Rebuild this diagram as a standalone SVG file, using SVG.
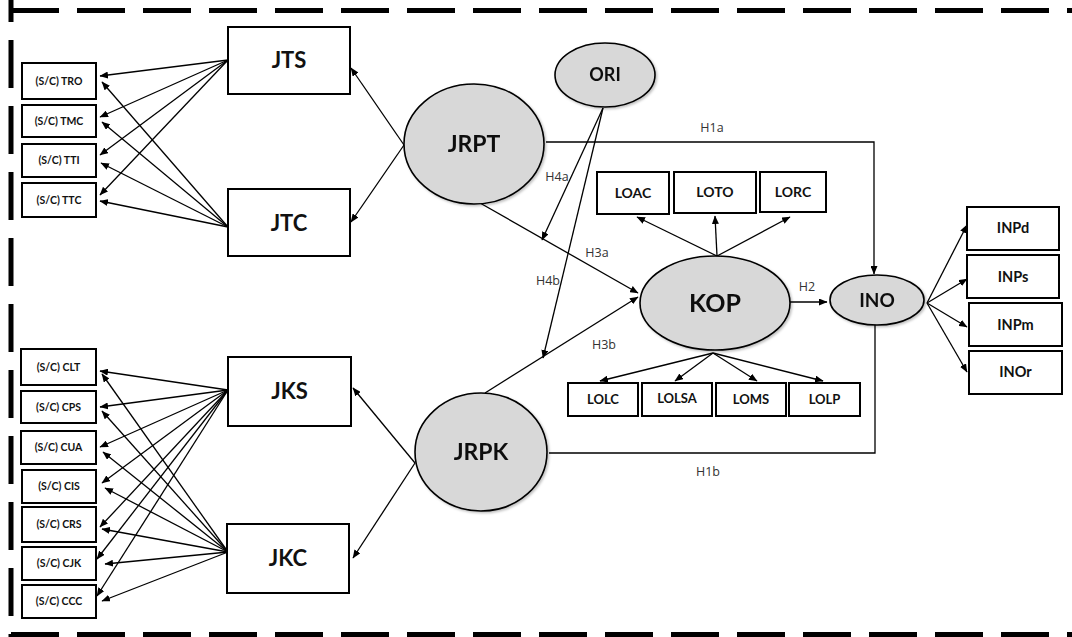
<svg xmlns="http://www.w3.org/2000/svg" width="1072" height="637" viewBox="0 0 1072 637">
  <style>
    .box { fill: #ffffff; stroke: #000; stroke-width: 2; }
    .oval { fill: #d8d8d8; stroke: #000; stroke-width: 1.6; }
    .lbl { font-family: Lato, "Open Sans", "Liberation Sans", sans-serif; font-weight: bold; fill: #111; text-anchor: middle; }
    .sm { font-size: 10.5px; }
    .hyp { font-family: "Open Sans", "Liberation Sans", sans-serif; font-size: 12.5px; fill: #333; text-anchor: middle; }
    .edge { stroke: #000; stroke-width: 1.3; fill: none; }
    .arr { marker-end: url(#tip); }
    .frame { stroke: #000; stroke-width: 5; stroke-dasharray: 48 18; fill: none; }
  </style>
  <defs>
    <marker id="tip" markerUnits="userSpaceOnUse" markerWidth="9" markerHeight="7" refX="8" refY="3.5" orient="auto">
      <path d="M0,0 L8.5,3.5 L0,7 z" fill="#000"/>
    </marker>
    <filter id="shade" x="-10%" y="-10%" width="125%" height="130%">
      <feDropShadow dx="1.5" dy="1.5" stdDeviation="1.2" flood-color="#000" flood-opacity="0.25"/>
    </filter>
  </defs>

  <rect width="1072" height="637" fill="#fff"/>

  <!-- dashed frame -->
  <g id="frame">
    <line class="frame" x1="11" y1="10.5" x2="1080" y2="10.5"/>
    <line class="frame" x1="11" y1="-26" x2="11" y2="640"/>
    <line class="frame" x1="11" y1="634.5" x2="1080" y2="634.5"/>
  </g>

  <!-- connectors -->
  <g id="connectors">
    <!-- JTS / JTC to task items -->
    <line class="edge arr" x1="228" y1="60" x2="100" y2="76"/>
    <line class="edge arr" x1="228" y1="60" x2="100" y2="117"/>
    <line class="edge arr" x1="228" y1="60" x2="100" y2="155"/>
    <line class="edge arr" x1="228" y1="60" x2="100" y2="195"/>
    <line class="edge arr" x1="228" y1="227" x2="102" y2="82"/>
    <line class="edge arr" x1="228" y1="227" x2="102" y2="122"/>
    <line class="edge arr" x1="228" y1="227" x2="101" y2="163"/>
    <line class="edge arr" x1="228" y1="227" x2="100" y2="201"/>

    <!-- JKS / JKC to context items -->
    <line class="edge arr" x1="228" y1="390" x2="100" y2="371"/>
    <line class="edge arr" x1="228" y1="390" x2="100" y2="407"/>
    <line class="edge arr" x1="228" y1="390" x2="100" y2="447"/>
    <line class="edge arr" x1="228" y1="390" x2="102" y2="483"/>
    <line class="edge arr" x1="228" y1="390" x2="100" y2="527"/>
    <line class="edge arr" x1="228" y1="390" x2="97" y2="559"/>
    <line class="edge arr" x1="228" y1="390" x2="97" y2="596"/>
    <line class="edge arr" x1="228" y1="552" x2="102" y2="374"/>
    <line class="edge arr" x1="228" y1="552" x2="102" y2="411"/>
    <line class="edge arr" x1="228" y1="552" x2="103" y2="452"/>
    <line class="edge arr" x1="228" y1="552" x2="105" y2="488"/>
    <line class="edge arr" x1="228" y1="552" x2="102" y2="529"/>
    <line class="edge arr" x1="228" y1="552" x2="105" y2="564"/>
    <line class="edge arr" x1="228" y1="552" x2="102" y2="601"/>

    <!-- JRPT / JRPK to their indicators -->
    <line class="edge arr" x1="404" y1="145" x2="351" y2="68"/>
    <line class="edge arr" x1="404" y1="145" x2="351" y2="222"/>
    <line class="edge arr" x1="415" y1="463" x2="353" y2="388"/>
    <line class="edge arr" x1="415" y1="463" x2="353" y2="558"/>

    <!-- structural paths -->
    <line class="edge arr" x1="480" y1="203" x2="638" y2="293"/>
    <line class="edge arr" x1="485" y1="393" x2="638" y2="297"/>
    <line class="edge arr" x1="603" y1="108" x2="542" y2="240"/>
    <line class="edge arr" x1="603" y1="108" x2="543" y2="358"/>
    <polyline class="edge arr" points="546,142 874,142 874,274"/>
    <polyline class="edge" points="549,453 875,453 875,325"/>
    <line class="edge arr" x1="790" y1="302" x2="827" y2="302"/>

    <!-- KOP to its indicators -->
    <line class="edge arr" x1="717" y1="256" x2="637" y2="217"/>
    <line class="edge arr" x1="717" y1="256" x2="715" y2="216"/>
    <line class="edge arr" x1="717" y1="256" x2="790" y2="217"/>
    <line class="edge arr" x1="713" y1="353" x2="600" y2="381"/>
    <line class="edge arr" x1="713" y1="353" x2="675" y2="381"/>
    <line class="edge arr" x1="713" y1="353" x2="757" y2="381"/>
    <line class="edge arr" x1="713" y1="353" x2="823" y2="381"/>

    <!-- INO to its indicators -->
    <line class="edge arr" x1="927" y1="303" x2="967" y2="225"/>
    <line class="edge arr" x1="927" y1="303" x2="967" y2="279"/>
    <line class="edge arr" x1="927" y1="303" x2="967" y2="327"/>
    <line class="edge arr" x1="927" y1="303" x2="967" y2="372"/>

    <!-- path labels -->
    <text class="hyp" x="712" y="132">H1a</text>
    <text class="hyp" x="708" y="476">H1b</text>
    <text class="hyp" x="807" y="291">H2</text>
    <text class="hyp" x="597" y="257">H3a</text>
    <text class="hyp" x="604" y="349">H3b</text>
    <text class="hyp" x="557" y="181">H4a</text>
    <text class="hyp" x="548" y="285">H4b</text>
  </g>

  <!-- task items -->
  <g id="n-tro"><rect class="box" x="22" y="63" width="74" height="36"/><text class="lbl sm" x="59" y="84.5">(S/C) TRO</text></g>
  <g id="n-tmc"><rect class="box" x="22" y="105" width="74" height="32"/><text class="lbl sm" x="59" y="124.5">(S/C) TMC</text></g>
  <g id="n-tti"><rect class="box" x="22" y="144" width="74" height="33"/><text class="lbl sm" x="59" y="164">(S/C) TTI</text></g>
  <g id="n-ttc"><rect class="box" x="22" y="183" width="74" height="34"/><text class="lbl sm" x="59" y="203.5">(S/C) TTC</text></g>

  <!-- context items -->
  <g id="n-clt"><rect class="box" x="21" y="349" width="75" height="36"/><text class="lbl sm" x="58.5" y="370.5">(S/C) CLT</text></g>
  <g id="n-cps"><rect class="box" x="21" y="391" width="75" height="32"/><text class="lbl sm" x="58.5" y="410.5">(S/C) CPS</text></g>
  <g id="n-cua"><rect class="box" x="21" y="431" width="75" height="33"/><text class="lbl sm" x="58.5" y="451">(S/C) CUA</text></g>
  <g id="n-cis"><rect class="box" x="22" y="470" width="74" height="33"/><text class="lbl sm" x="59" y="490">(S/C) CIS</text></g>
  <g id="n-crs"><rect class="box" x="22" y="507" width="74" height="35"/><text class="lbl sm" x="59" y="528">(S/C) CRS</text></g>
  <g id="n-cjk"><rect class="box" x="22" y="547" width="74" height="33"/><text class="lbl sm" x="59" y="567">(S/C) CJK</text></g>
  <g id="n-ccc"><rect class="box" x="22" y="585" width="74" height="33"/><text class="lbl sm" x="59" y="605">(S/C) CCC</text></g>

  <!-- first-order indicators -->
  <g id="n-jts"><rect class="box" x="228" y="27" width="122" height="67"/><text class="lbl" x="289" y="68" font-size="22">JTS</text></g>
  <g id="n-jtc"><rect class="box" x="228" y="189" width="122" height="67"/><text class="lbl" x="289" y="231" font-size="22">JTC</text></g>
  <g id="n-jks"><rect class="box" x="228" y="357" width="123" height="69"/><text class="lbl" x="289.5" y="399" font-size="22">JKS</text></g>
  <g id="n-jkc"><rect class="box" x="227" y="524" width="122" height="69"/><text class="lbl" x="288" y="566" font-size="22">JKC</text></g>

  <!-- latent constructs -->
  <g id="n-jrpt" filter="url(#shade)"><ellipse class="oval" cx="474" cy="144" rx="70" ry="60"/><text class="lbl" x="474" y="152" font-size="23">JRPT</text></g>
  <g id="n-jrpk" filter="url(#shade)"><ellipse class="oval" cx="481" cy="452" rx="66" ry="59"/><text class="lbl" x="481" y="460" font-size="23">JRPK</text></g>
  <g id="n-ori" filter="url(#shade)"><ellipse class="oval" cx="605" cy="75" rx="50" ry="32"/><text class="lbl" x="605" y="81" font-size="18">ORI</text></g>
  <g id="n-kop" filter="url(#shade)"><ellipse class="oval" cx="715" cy="303" rx="75" ry="47"/><text class="lbl" x="715" y="312" font-size="25">KOP</text></g>
  <g id="n-ino" filter="url(#shade)"><ellipse class="oval" cx="877" cy="300" rx="47" ry="25"/><text class="lbl" x="877" y="307" font-size="19">INO</text></g>

  <!-- KOP indicators -->
  <g id="n-loac"><rect class="box" x="597" y="172" width="72" height="42"/><text class="lbl" x="633" y="198" font-size="14">LOAC</text></g>
  <g id="n-loto"><rect class="box" x="674" y="172" width="82" height="41"/><text class="lbl" x="715" y="197" font-size="14">LOTO</text></g>
  <g id="n-lorc"><rect class="box" x="760" y="172" width="66" height="40"/><text class="lbl" x="793" y="197" font-size="14">LORC</text></g>
  <g id="n-lolc"><rect class="box" x="568" y="383" width="70" height="33"/><text class="lbl" x="603" y="404" font-size="13">LOLC</text></g>
  <g id="n-lolsa"><rect class="box" x="642" y="383" width="70" height="33"/><text class="lbl" x="677" y="403" font-size="13">LOLSA</text></g>
  <g id="n-loms"><rect class="box" x="716" y="383" width="70" height="33"/><text class="lbl" x="751" y="404" font-size="13">LOMS</text></g>
  <g id="n-lolp"><rect class="box" x="789" y="383" width="71" height="33"/><text class="lbl" x="824.5" y="404" font-size="13">LOLP</text></g>

  <!-- INO indicators -->
  <g id="n-inpd"><rect class="box" x="967" y="207" width="92" height="43"/><text class="lbl" x="1013" y="233" font-size="14.5">INPd</text></g>
  <g id="n-inps"><rect class="box" x="967" y="255" width="92" height="43"/><text class="lbl" x="1013" y="282" font-size="14.5">INPs</text></g>
  <g id="n-inpm"><rect class="box" x="969" y="303" width="93" height="43"/><text class="lbl" x="1015.5" y="330" font-size="14.5">INPm</text></g>
  <g id="n-inor"><rect class="box" x="969" y="351" width="93" height="43"/><text class="lbl" x="1015.5" y="377" font-size="14.5">INOr</text></g>
</svg>
